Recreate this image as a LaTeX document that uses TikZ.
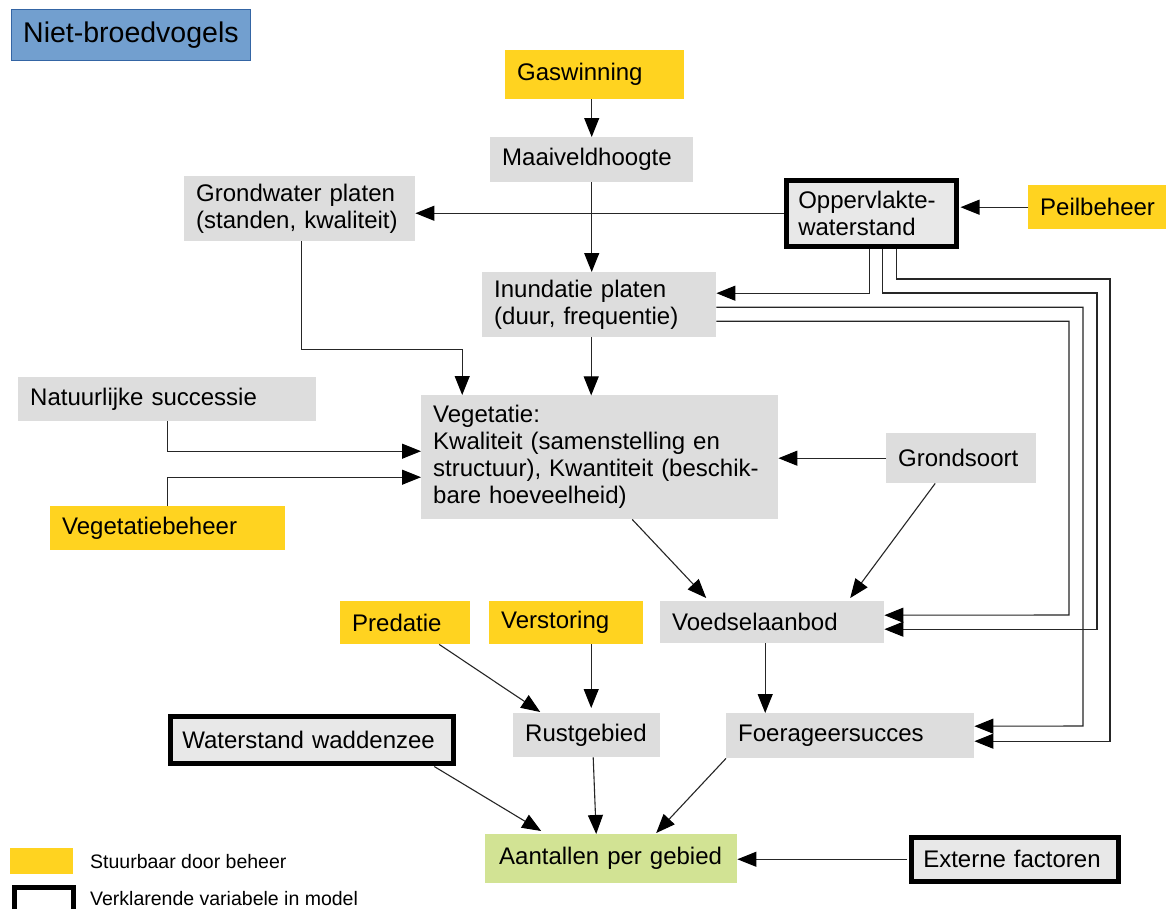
\documentclass[tikz,border=0pt]{standalone}
\usepackage{fontspec}
\setmainfont{Liberation Sans}
\usetikzlibrary{arrows.meta}
\definecolor{ygold}{HTML}{FFD320}
\definecolor{lgray}{HTML}{DDDDDD}
\definecolor{lgray2}{HTML}{E8E8E8}
\definecolor{lgreen}{HTML}{D2E394}
\definecolor{tblue}{HTML}{729FCF}
\definecolor{tbord}{HTML}{3465A4}
\begin{document}
\begin{tikzpicture}[x=1pt,y=-1pt,
  box/.style={anchor=north west, inner xsep=12pt, inner ysep=0pt, align=left,
    font=\fontsize{24}{27}\selectfont},
  gbox/.style={box, fill=lgray},
  ybox/.style={box, fill=ygold},
  tbox/.style={box, fill=lgray2, draw=black, line width=4.5pt, inner xsep=12pt},
  arr/.style={draw=black!85, line width=1.1pt, -{Triangle[length=19pt,width=15pt,color=black]}},
]
\clip (0,0) rectangle (1166,908);
\fill[white] (0,0) rectangle (1166,908);

% title
\node[anchor=north west, fill=tblue, draw=tbord, line width=0.8pt, minimum width=239pt, minimum height=51pt,
  inner sep=0pt, font=\fontsize{28.5}{34}\selectfont] (title) at (11,9) {Niet-broedvogels};

% boxes
\node[ybox, minimum width=179pt, minimum height=49pt, text width=155pt] (gas) at (505,50) {Gaswinning};
\node[gbox, minimum width=203pt, minimum height=45pt, text width=179pt] (maai) at (490,137) {Maaiveldhoogte};
\node[gbox, minimum width=231pt, minimum height=65pt, text width=207pt] (grond) at (184,176) {Grondwater platen\\(standen, kwaliteit)};
\node[tbox, minimum width=170pt, minimum height=66pt, text width=146pt] (opp) at (784,178) {Oppervlakte-\\waterstand};
\node[ybox, minimum width=138pt, minimum height=44pt, text width=114pt] (peil) at (1028,185) {Peilbeheer};
\node[gbox, minimum width=234pt, minimum height=65pt, text width=210pt] (inun) at (482,272) {Inundatie platen\\(duur, frequentie)};
\node[gbox, minimum width=298pt, minimum height=44pt, text width=274pt] (nat) at (18,377) {Natuurlijke successie};
\node[gbox, minimum width=357pt, minimum height=124pt, text width=333pt] (veg) at (421,395)
  {Vegetatie:\\Kwaliteit (samenstelling en\\structuur), Kwantiteit (beschik-\\bare hoeveelheid)};
\node[gbox, minimum width=150pt, minimum height=50pt, text width=126pt] (gsoort) at (886,433) {Grondsoort};
\node[ybox, minimum width=235pt, minimum height=44pt, text width=211pt] (vbeh) at (50,506) {Vegetatiebeheer};
\node[ybox, minimum width=130pt, minimum height=43pt, text width=106pt] (pred) at (340,601) {Predatie};
\node[ybox, minimum width=154pt, minimum height=43pt, text width=130pt] (verst) at (489,601) {Verstoring};
\node[gbox, minimum width=224pt, minimum height=42pt, text width=200pt] (voed) at (660,601) {Voedselaanbod};
\node[tbox, minimum width=283pt, minimum height=47pt, text width=259pt] (wadd) at (168,714) {Waterstand waddenzee};
\node[gbox, minimum width=147pt, minimum height=44pt, text width=123pt] (rust) at (513,713) {Rustgebied};
\node[gbox, minimum width=248pt, minimum height=45pt, text width=224pt] (foer) at (726,713) {Foerageersucces};
\node[box, fill=lgreen, inner xsep=14pt, minimum width=252pt, minimum height=49pt, text width=224pt] (aant) at (485,834) {Aantallen per gebied};
\node[tbox, minimum width=207pt, minimum height=44pt, text width=183pt] (ext) at (909,835) {Externe factoren};

% legend
\node[anchor=north west, fill=ygold, minimum width=63pt, minimum height=26pt, inner sep=0pt] (legy) at (10,848) {};
\node[anchor=north west, draw=black, line width=4.5pt, minimum width=59pt, minimum height=40pt, inner sep=0pt] (legb) at (12,885) {};
\node[anchor=west, inner sep=0pt, font=\fontsize{19.5}{22}\selectfont] (legyt) at (90,862) {Stuurbaar door beheer};
\node[anchor=west, inner sep=0pt, font=\fontsize{19.5}{22}\selectfont] (legbt) at (90,899) {Verklarende variabele in model};

% connectors
\draw[arr] (gas.south -| maai.north) -- (maai.north);
\draw[arr] (maai.south) -- (maai.south |- inun.north);
\draw[arr] (opp.west) -- (opp.west -| grond.east);
\draw[arr, shorten >=2pt] (peil.west) -- (peil.west -| opp.east);
\draw[arr] ([xshift=1.5pt]grond.south) -- ++(0,108) -| ([xshift=-137.5pt]veg.north);
\draw[arr] ([xshift=-8pt]inun.south) -- ++(0,58);
\draw[arr] (nat.south) |- ([yshift=6pt]veg.west);
\draw[arr] (vbeh.north) |- ([yshift=-20pt]veg.west);
\draw[arr] (gsoort.west) -- (gsoort.west -| veg.east);
\draw[arr] ([xshift=32.5pt]veg.south) -- ([xshift=-66pt,yshift=3pt]voed.north);
\draw[arr] ([xshift=-26pt]gsoort.south) -- ([xshift=78pt,yshift=3pt]voed.north);

% bundle from Oppervlakte-waterstand and Inundatie
\draw[arr] ([xshift=-2pt]opp.south) |- ([yshift=11.5pt]inun.east);
\draw[arr] ([xshift=11pt]opp.south) |- (1097,293) |- ([yshift=-7pt]voed.east);
\draw[arr] ([xshift=25pt]opp.south) |- (1110,279) |- ([yshift=-5.5pt]foer.east);
\draw[arr] ([yshift=-16.5pt]inun.east) -| (1069,615) -- ([yshift=7pt]voed.east);
\draw[arr] ([yshift=-2.5pt]inun.east) -| (1083,726) -- ([yshift=9.5pt]foer.east);

% lower part
\draw[arr] ([xshift=34pt]pred.south) -- ([xshift=-46.5pt,yshift=1pt]rust.north);
\draw[arr] ([xshift=25pt]verst.south) -- ([xshift=4.5pt,yshift=5pt]rust.north);
\draw[arr] ([xshift=-7pt]voed.south) -- ([xshift=-85pt]foer.north);
\draw[arr] ([xshift=122.5pt,yshift=-1pt]wadd.south) -- ([xshift=-70pt,yshift=3pt]aant.north);
\draw[arr] ([xshift=6.5pt]rust.south) -- ([xshift=-15pt]aant.north);
\draw[arr] (foer.south west) -- ([xshift=45pt,yshift=1pt]aant.north);
\draw[arr, shorten <=2pt] (ext.west) -- (ext.west -| aant.east);
\end{tikzpicture}
\end{document}
